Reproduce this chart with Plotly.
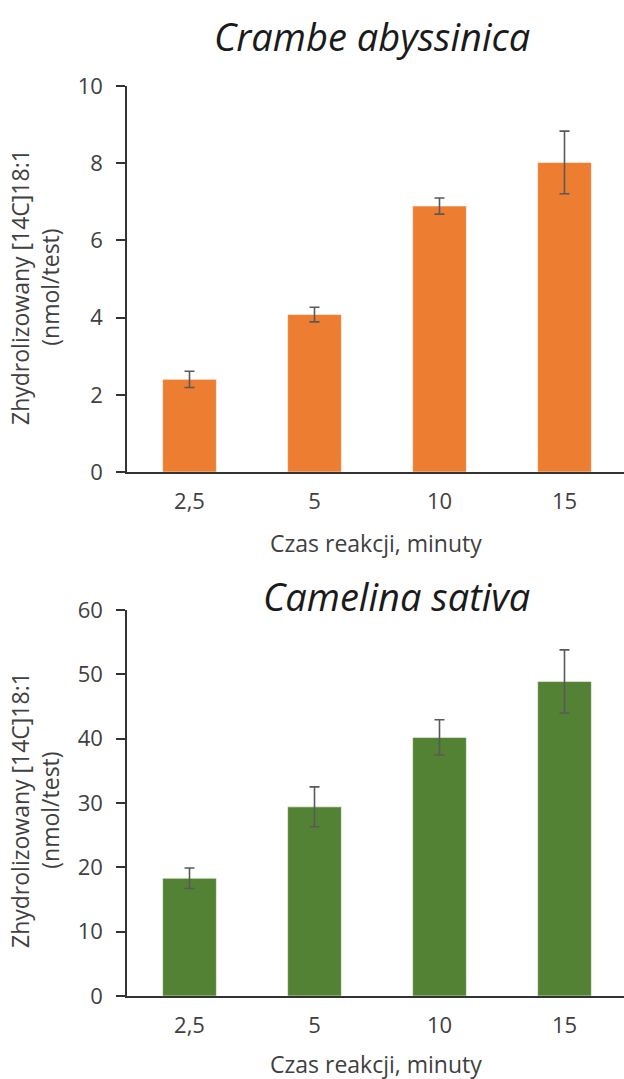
import plotly.graph_objects as go

# Reaction time categories (minutes)
categories = ["2,5", "5", "10", "15"]

# Hydrolysed [14C]18:1, nmol/test — mean and error
crambe_values = [2.40, 4.08, 6.89, 8.02]
crambe_errors = [0.21, 0.19, 0.21, 0.81]

camelina_values = [18.3, 29.4, 40.2, 48.9]
camelina_errors = [1.6, 3.1, 2.75, 4.9]

W, H = 624, 1079
FONT = "Open Sans"
TEXT = "#404040"
AXIS = "#333333"


def px(x):
    return x / W


def py(y):
    return 1 - y / H


fig = go.Figure()

fig.add_trace(go.Bar(
    x=categories, y=crambe_values, width=0.43,
    marker=dict(color="#ED7D31", line=dict(color="rgba(255,255,255,0.55)", width=1)),
    error_y=dict(type="data", array=crambe_errors, color="#595959", thickness=1.6, width=5),
    xaxis="x", yaxis="y", showlegend=False,
))
fig.add_trace(go.Bar(
    x=categories, y=camelina_values, width=0.43,
    marker=dict(color="#548235", line=dict(color="rgba(255,255,255,0.55)", width=1)),
    error_y=dict(type="data", array=camelina_errors, color="#595959", thickness=1.6, width=5),
    xaxis="x2", yaxis="y2", showlegend=False,
))

x_left = 127
x_range = [-0.5, -0.5 + (W - x_left) / 125.0]

xaxis_common = dict(
    domain=[px(x_left), 1], range=x_range, type="category",
    showline=True, linecolor=AXIS, linewidth=1.5, ticks="",
    showgrid=False, zeroline=False, fixedrange=True, automargin=False,
    tickfont=dict(family=FONT, size=22, color=TEXT), ticklabelstandoff=9,
)
yaxis_common = dict(
    showline=True, linecolor=AXIS, linewidth=1.5,
    ticks="outside", ticklen=9, tickwidth=1.5, tickcolor=AXIS,
    showgrid=False, zeroline=False, fixedrange=True, automargin=False,
    tickfont=dict(family=FONT, size=22, color=TEXT), ticklabelstandoff=9,
)

fig.update_layout(
    width=W, height=H,
    margin=dict(l=0, r=0, t=0, b=0, autoexpand=False),
    paper_bgcolor="white", plot_bgcolor="white",
    bargap=0.57,
    xaxis=dict(xaxis_common, anchor="y"),
    yaxis=dict(yaxis_common, domain=[py(472), py(86)], range=[0, 10], dtick=2, anchor="x"),
    xaxis2=dict(xaxis_common, anchor="y2"),
    yaxis2=dict(yaxis_common, domain=[py(996), py(610)], range=[0, 60], dtick=10, anchor="x2"),
)

y_title = "Zhydrolizowany [14C]18:1<br>(nmol/test)"
x_title = "Czas reakcji, minuty"

annotations = [
    dict(text="<i>Crambe abyssinica</i>", x=px(372), y=py(36),
         font=dict(family=FONT, size=38, color="#1a1a1a")),
    dict(text="<i>Camelina sativa</i>", x=px(396), y=py(596),
         font=dict(family=FONT, size=38, color="#1a1a1a")),
    dict(text=x_title, x=px(376), y=py(543),
         font=dict(family=FONT, size=23, color=TEXT)),
    dict(text=x_title, x=px(376), y=py(1064),
         font=dict(family=FONT, size=23, color=TEXT)),
    dict(text=y_title, x=px(35), y=py(287), textangle=-90,
         font=dict(family=FONT, size=23, color=TEXT)),
    dict(text=y_title, x=px(35), y=py(810), textangle=-90,
         font=dict(family=FONT, size=23, color=TEXT)),
]
for a in annotations:
    fig.add_annotation(xref="paper", yref="paper", xanchor="center", yanchor="middle",
                       showarrow=False, **a)

fig.write_html("out.html", config={"displayModeBar": False})
